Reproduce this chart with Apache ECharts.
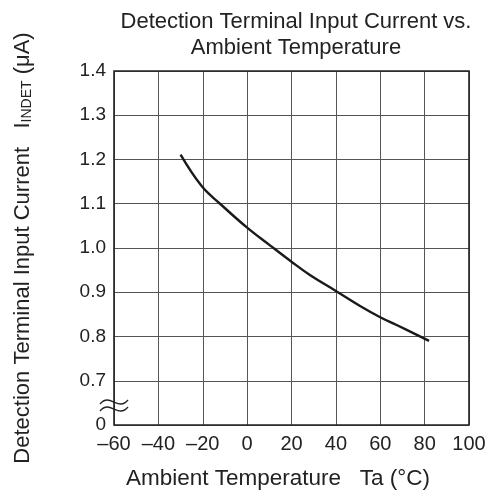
<!DOCTYPE html>
<html><head><meta charset="utf-8">
<script src="https://cdn.jsdelivr.net/npm/echarts@6/dist/echarts.min.js"></script>
<style>html,body{margin:0;padding:0;background:#fff}#c{width:490px;height:494px}</style>
</head><body><div id="c"></div>
<script>
var temps = [-30, -20.5, -12.2, 0, 10.3, 20, 28.3, 40, 50.9, 60.2, 67.4, 82];
var currents = [1.211, 1.140, 1.100, 1.046, 1.006, 0.969, 0.939, 0.903, 0.869, 0.843, 0.826, 0.790];
var xTicks = [-60, -40, -20, 0, 20, 40, 60, 80, 100];
var yTicks = [0.6, 0.7, 0.8, 0.9, 1.0, 1.1, 1.2, 1.3, 1.4];
var yTickLabels = ['0', '0.7', '0.8', '0.9', '1.0', '1.1', '1.2', '1.3', '1.4'];

var FONT = 'Liberation Sans, Arial, sans-serif';
var chart = echarts.init(document.getElementById('c'));
var data = temps.map(function(t, i){ return [t, currents[i]]; });
chart.setOption({
  animation: false,
  title: {
    text: 'Detection Terminal Input Current vs.\nAmbient Temperature',
    left: 291, top: 4, textAlign: 'center',
    textStyle: {fontFamily: FONT, fontSize: 22, fontWeight: 'normal', color: '#222', lineHeight: 26}
  },
  grid: {left: 114, right: 21, top: 71, bottom: 69, outerBoundsMode: 'none', containLabel: false},
  xAxis: {
    type: 'value', min: -60, max: 100, interval: 20,
    name: 'Ambient Temperature   Ta (°C)', nameLocation: 'middle', nameGap: 42,
    nameTextStyle: {fontFamily: FONT, fontSize: 22.5, color: '#222', padding: [0, 27, 0, 0]},
    axisLine: {show: false},
    axisTick: {show: false},
    axisLabel: {fontFamily: FONT, fontSize: 20, color: '#222', margin: 9,
      formatter: function(v){ return xTicks.indexOf(v) >= 0 ? String(v).replace('-', '\u2013') : ''; }},
    splitLine: {show: true, lineStyle: {color: '#555', width: 1}}
  },
  yAxis: {
    type: 'value', min: 0.6, max: 1.4, interval: 0.1,
    name: 'Detection Terminal Input Current   I{sub|INDET} (μA)', nameLocation: 'middle', nameGap: 80, nameRotate: 90,
    nameTextStyle: {fontFamily: FONT, fontSize: 22, color: '#222', padding: [0, 0, 0, 0],
      rich: {sub: {fontFamily: FONT, fontSize: 14, color: '#222', verticalAlign: 'bottom', padding: [8,0,0,0]}}},
    axisLine: {show: false},
    axisTick: {show: false},
    axisLabel: {fontFamily: FONT, fontSize: 19, color: '#222', margin: 8,
      formatter: function(v){
        for (var i = 0; i < yTicks.length; i++) if (Math.abs(yTicks[i]-v) < 1e-6) return yTickLabels[i];
        return '';
      }},
    splitLine: {show: true, lineStyle: {color: '#555', width: 1}}
  },
  series: [{
    type: 'line', data: data, smooth: 0.4, showSymbol: false,
    lineStyle: {color: '#1a1a1a', width: 2.4}
  }]
});

function drawDeco(){
  var tl = chart.convertToPixel({gridIndex: 0}, [-60, 1.4]);
  var br = chart.convertToPixel({gridIndex: 0}, [100, 0.6]);
  var brk = chart.convertToPixel({gridIndex: 0}, [-60, 0.644]);
  var bx = brk[0], by = brk[1];
  function wave(dy){
    return {type: 'bezierCurve', z: 12,
      shape: {x1: bx-14, y1: by+dy+2, cpx1: bx-4, cpy1: by+dy-10, cpx2: bx+4, cpy2: by+dy+10, x2: bx+14, y2: by+dy-2},
      style: {fill: 'none', stroke: '#222', lineWidth: 1.4}};
  }
  chart.setOption({graphic: [
    {type: 'rect', shape: {x: tl[0], y: tl[1], width: br[0]-tl[0], height: br[1]-tl[1]},
     style: {fill: 'none', stroke: '#222', lineWidth: 1.6}, z: 10},
    {type: 'rect', shape: {x: bx-15, y: by-7, width: 13, height: 14}, style: {fill: '#fff'}, z: 11},
    wave(-3.5), wave(3.5)
  ]});
}
drawDeco();
</script></body></html>
